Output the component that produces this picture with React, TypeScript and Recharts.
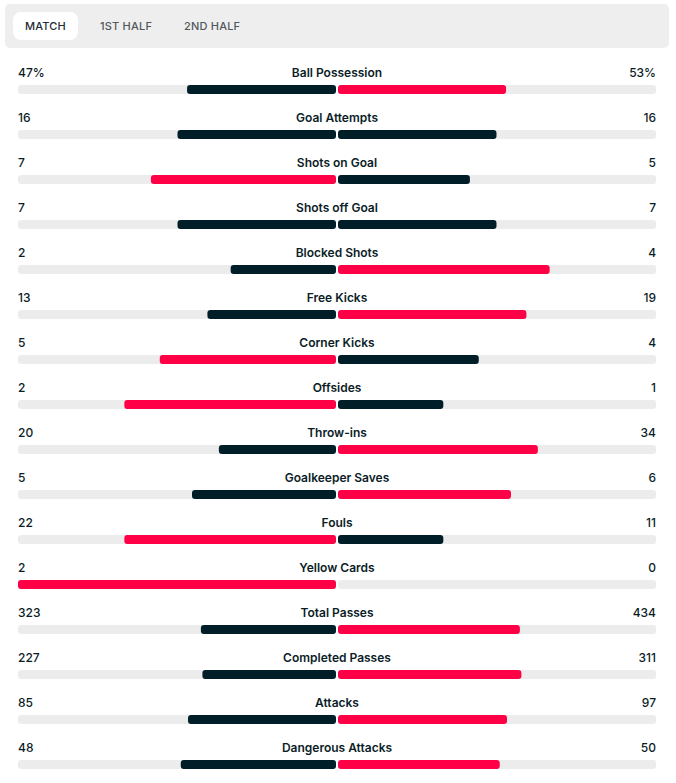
import { BarChart, Bar, XAxis, YAxis, Cell } from 'recharts';

// ─── Match stats ─────────────────────────────────────────────────────────────
const statLabels = [
  'Ball Possession', 'Goal Attempts', 'Shots on Goal', 'Shots off Goal',
  'Blocked Shots', 'Free Kicks', 'Corner Kicks', 'Offsides', 'Throw-ins',
  'Goalkeeper Saves', 'Fouls', 'Yellow Cards', 'Total Passes',
  'Completed Passes', 'Attacks', 'Dangerous Attacks',
];
const homeValues = [47, 16, 7, 7, 2, 13, 5, 2, 20, 5, 22, 2, 323, 227, 85, 48];
const awayValues = [53, 16, 5, 7, 4, 19, 4, 1, 34, 6, 11, 0, 434, 311, 97, 50];
const valueSuffix = ['%', '', '', '', '', '', '', '', '', '', '', '', '', '', '', ''];
const tabs = ['MATCH', '1ST HALF', '2ND HALF'];

const RED = '#ff0046';
const DARK = '#001e28';
const TRACK = '#ececec';
const TEXT = '#0b1d27';
const FONT = 'Inter, "Noto Sans", sans-serif';

const W = 676;
const LEFT = 18;
const RIGHT = 656;
const CENTER = (LEFT + RIGHT) / 2;

const rows = statLabels.map((label, i) => {
  const h = homeValues[i];
  const a = awayValues[i];
  const total = h + a || 1;
  return {
    label,
    home: -h / total,
    away: a / total,
    homeText: `${h}${valueSuffix[i]}`,
    awayText: `${a}${valueSuffix[i]}`,
    homeColor: h > a ? RED : DARK,
    awayColor: a > h ? RED : DARK,
  };
});

// split track: two halves with a 2px gap at the centre
const TrackShape = (props: any) => {
  const { x, y, width, height } = props;
  const mid = x + width / 2;
  return (
    <g>
      <rect x={x} y={y} width={mid - 1 - x} height={height} rx={3} fill={TRACK} />
      <rect x={mid + 1} y={y} width={x + width - mid - 1} height={height} rx={3} fill={TRACK} />
    </g>
  );
};

const HalfBar = (side: 'home' | 'away') => (props: any) => {
  const { x, y, width, height, fill } = props;
  let x0 = Math.min(x, x + width);
  let w = Math.abs(width);
  if (w < 1) return null;
  if (side === 'home') w -= 1;
  else { x0 += 1; w -= 1; }
  return <rect x={x0} y={y} width={w} height={height} rx={3} fill={fill} />;
};

const RowTick = (props: any) => {
  const { y, payload, index } = props;
  const i = payload?.index ?? index ?? statLabels.indexOf(payload?.value);
  const r = rows[i];
  if (!r) return null;
  const ty = y - 13;
  return (
    <g fontFamily={FONT} fontSize={12} fill={TEXT}>
      <text x={LEFT} y={ty} textAnchor="start" fontWeight={500}>{r.homeText}</text>
      <text x={CENTER} y={ty} textAnchor="middle" fontWeight={600}>{r.label}</text>
      <text x={RIGHT} y={ty} textAnchor="end" fontWeight={500}>{r.awayText}</text>
    </g>
  );
};

export default function App() {
  return (
    <div style={{ position: 'absolute', left: 0, top: 0, width: W, height: 783, overflow: 'hidden', background: '#fff', fontFamily: FONT }}>
      <div style={{
        position: 'absolute', left: 5, top: 4, width: 664, height: 44,
        background: '#eeeeee', borderRadius: 5,
      }}>
        {tabs.map((t, i) => (
          <div key={t} style={{
            position: 'absolute', top: 8, height: 28, lineHeight: '28px',
            left: i === 0 ? 8 : i === 1 ? 82 : 166,
            width: i === 0 ? 65 : 85,
            textAlign: i === 0 ? 'center' : 'left',
            paddingLeft: i === 0 ? 0 : 13,
            boxSizing: 'border-box',
            background: i === 0 ? '#fff' : 'transparent',
            borderRadius: 8,
            fontSize: 11, fontWeight: 500,
            letterSpacing: 0.2,
            color: i === 0 ? '#1f2b36' : '#51575c',
          }}>{t}</div>
        ))}
      </div>
      <div style={{ position: 'absolute', left: 0, top: 0 }}>
        <BarChart
          width={W}
          height={790}
          data={rows}
          layout="vertical"
          stackOffset="sign"
          margin={{ top: 67, right: W - RIGHT, bottom: 3, left: LEFT - 1 }}
          barSize={9}
        >
          <XAxis type="number" domain={[-1, 1]} hide />
          <YAxis
            type="category"
            dataKey="label"
            width={1}
            axisLine={false}
            tickLine={false}
            tick={(p: any) => <RowTick {...p} />}
            interval={0}
          />
          <Bar
            dataKey="home"
            stackId="s"
            isAnimationActive={false}
            background={<TrackShape />}
            shape={HalfBar('home')}
          >
            {rows.map((r) => <Cell key={r.label} fill={r.homeColor} />)}
          </Bar>
          <Bar
            dataKey="away"
            stackId="s"
            isAnimationActive={false}
            shape={HalfBar('away')}
          >
            {rows.map((r) => <Cell key={r.label} fill={r.awayColor} />)}
          </Bar>
        </BarChart>
      </div>
    </div>
  );
}
